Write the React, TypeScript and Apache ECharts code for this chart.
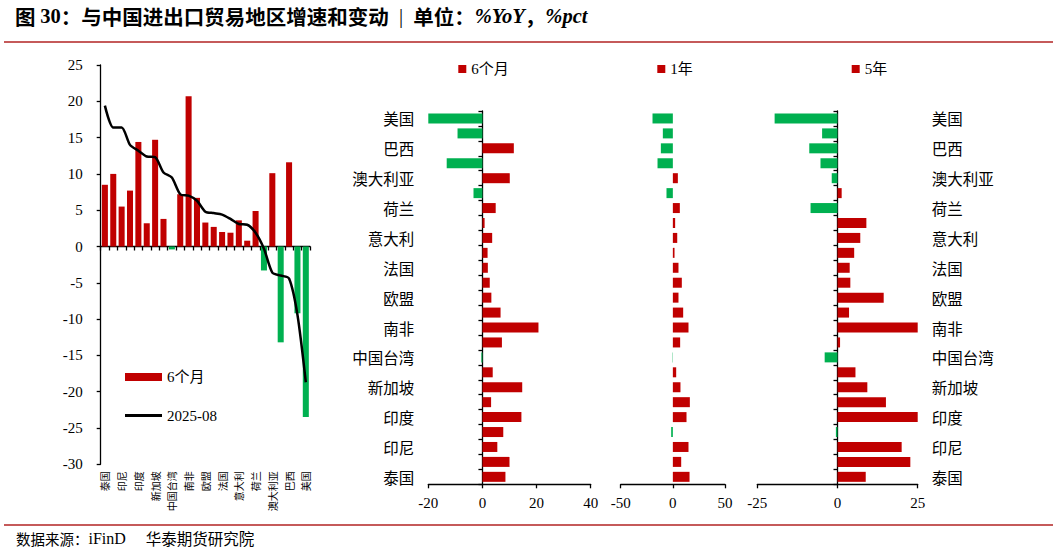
import React, { useEffect, useRef } from 'react';
import * as echarts from 'echarts';

// Categories (index 0 = bottom / left). Unlabelled in-between rows have blank names.
const categories = ['泰国', '', '印尼', '', '印度', '', '新加坡', '', '中国台湾', '', '南非', '', '欧盟', '', '法国', '', '意大利', '', '荷兰', '', '澳大利亚', '', '巴西', '', '美国'];

// 6-month change (bars, left chart and first right panel)
const sixMonth = [8.5, 10.0, 5.5, 7.7, 14.4, 3.2, 14.7, 3.8, -0.4, 7.2, 20.7, 6.7, 3.3, 2.7, 2.0, 1.9, 3.6, 0.8, 4.9, -3.3, 10.1, -13.2, 11.6, -9.2, -23.5];
// 2025-08 YoY (line, left chart)
const latest = [19.4, 16.4, 16.4, 14.0, 13.2, 12.4, 12.3, 10.2, 9.5, 7.2, 7.0, 6.3, 4.8, 4.6, 4.4, 3.8, 3.1, 3.0, 1.9, -0.3, -3.6, -4.0, -4.4, -9.4, -18.7];
// 1-year change
const oneYear = [16.0, 8.0, 15.0, -1.6, 13.1, 16.3, 7.3, 3.2, -0.3, 7.0, 15.0, 9.9, 5.4, 8.6, 5.4, 1.6, 4.2, 2.2, 6.7, -6.1, 4.8, -14.7, -11.5, -9.6, -19.5];
// 5-year change
const fiveYear = [8.8, 22.7, 20.0, -0.5, 26.0, 15.1, 9.3, 5.6, -4.0, 0.8, 26.5, 3.6, 14.4, 4.0, 3.8, 5.2, 7.1, 9.0, -8.4, 1.3, -1.8, -5.3, -8.8, -4.8, -19.6];

const RED = '#C00000';
const GREEN = '#00B050';
const SERIF = "'Liberation Serif', 'Noto Sans CJK SC'";
const CJK = "'Noto Sans CJK SC', 'Liberation Serif'";

const colored = (arr: number[]) =>
  arr.map((v) => ({ value: v, itemStyle: { color: v < 0 ? GREEN : RED } }));

export default function App() {
  const ref = useRef<HTMLDivElement>(null);

  useEffect(() => {
    if (!ref.current) return;
    const chart = echarts.init(ref.current, null, { renderer: 'svg' });

    const axisLineStyle = { color: '#000', width: 1.3 };
    const rightTop = 111;
    const rightH = 373.3;

    const valueLabel = { color: '#000', fontFamily: SERIF, fontSize: 15, margin: 11 };

    const option: any = {
      animation: false,
      backgroundColor: '#fff',
      grid: [
        { left: 100.7, top: 65, width: 209.3, height: 399.3, containLabel: false, outerBoundsMode: 'none' },
        { left: 428.3, top: rightTop, width: 162.4, height: rightH, containLabel: false, outerBoundsMode: 'none' },
        { left: 620.7, top: rightTop, width: 104.3, height: rightH, containLabel: false, outerBoundsMode: 'none' },
        { left: 757.3, top: rightTop, width: 160.4, height: rightH, containLabel: false, outerBoundsMode: 'none' },
      ],
      xAxis: [
        {
          gridIndex: 0, type: 'category', data: categories, position: 'top',
          axisLine: { show: true, onZero: true, lineStyle: axisLineStyle },
          axisTick: { show: true, inside: true, length: 4, interval: 0, lineStyle: axisLineStyle },
          axisLabel: { show: false },
          splitLine: { show: false },
        },
        {
          gridIndex: 0, type: 'category', data: categories, position: 'bottom',
          axisLine: { show: false, onZero: false },
          axisTick: { show: false },
          axisLabel: { show: true, interval: 0, rotate: 90, fontSize: 10, fontFamily: CJK, color: '#000', margin: 7 },
          splitLine: { show: false },
        },
        {
          gridIndex: 1, type: 'value', min: -20, max: 40, interval: 20, position: 'bottom',
          axisLine: { show: true, onZero: false, lineStyle: axisLineStyle },
          axisTick: { show: true, length: 4, lineStyle: axisLineStyle },
          axisLabel: valueLabel,
          splitLine: { show: false },
        },
        {
          gridIndex: 2, type: 'value', min: -50, max: 50, interval: 50, position: 'bottom',
          axisLine: { show: true, onZero: false, lineStyle: axisLineStyle },
          axisTick: { show: true, length: 4, lineStyle: axisLineStyle },
          axisLabel: valueLabel,
          splitLine: { show: false },
        },
        {
          gridIndex: 3, type: 'value', min: -25, max: 25, interval: 25, position: 'bottom',
          axisLine: { show: true, onZero: false, lineStyle: axisLineStyle },
          axisTick: { show: true, length: 4, lineStyle: axisLineStyle },
          axisLabel: valueLabel,
          splitLine: { show: false },
        },
      ],
      yAxis: [
        {
          gridIndex: 0, type: 'value', min: -30, max: 25, interval: 5, position: 'left',
          axisLine: { show: true, onZero: false, lineStyle: axisLineStyle },
          axisTick: { show: true, length: 4, lineStyle: axisLineStyle },
          axisLabel: { color: '#000', fontFamily: SERIF, fontSize: 15, margin: 18 },
          splitLine: { show: false },
        },
        {
          gridIndex: 1, type: 'category', data: categories, position: 'left',
          axisLine: { show: false, onZero: false },
          axisTick: { show: false },
          axisLabel: { show: true, interval: 0, fontSize: 15.5, fontFamily: CJK, color: '#000', margin: 14 },
          splitLine: { show: false },
        },
        {
          gridIndex: 1, type: 'category', data: categories, position: 'right',
          axisLine: { show: true, onZero: true, lineStyle: axisLineStyle },
          axisTick: { show: true, inside: true, length: 4, interval: 0, lineStyle: axisLineStyle },
          axisLabel: { show: false },
          splitLine: { show: false },
        },
        {
          gridIndex: 2, type: 'category', data: categories, show: false,
        },
        {
          gridIndex: 3, type: 'category', data: categories, position: 'right',
          axisLine: { show: false, onZero: false },
          axisTick: { show: false },
          axisLabel: { show: true, interval: 0, fontSize: 15.5, fontFamily: CJK, color: '#000', margin: 14 },
          splitLine: { show: false },
        },
        {
          gridIndex: 3, type: 'category', data: categories, position: 'left',
          axisLine: { show: true, onZero: true, lineStyle: axisLineStyle },
          axisTick: { show: true, length: 4, interval: 0, lineStyle: axisLineStyle },
          axisLabel: { show: false },
          splitLine: { show: false },
        },
      ],
      legend: [
        {
          data: [{ name: '6个月', icon: 'rect' }], left: 125, top: 369.5, padding: 0,
          itemWidth: 37, itemHeight: 8, selectedMode: false,
          textStyle: { color: '#000', fontFamily: SERIF, fontSize: 15 },
        },
        {
          data: [{ name: '2025-08', icon: 'rect', itemStyle: { color: '#000' } }], left: 125, top: 408, padding: 0,
          itemWidth: 37, itemHeight: 3, selectedMode: false,
          textStyle: { color: '#000', fontFamily: SERIF, fontSize: 15 },
        },
        {
          data: [{ name: '6个月', icon: 'rect' }], left: 458.3, top: 61.5, padding: 0,
          itemWidth: 8, itemHeight: 8, selectedMode: false,
          textStyle: { color: '#000', fontFamily: SERIF, fontSize: 15 },
        },
        {
          data: [{ name: '1年', icon: 'rect' }], left: 657.3, top: 61.5, padding: 0,
          itemWidth: 8, itemHeight: 8, selectedMode: false,
          textStyle: { color: '#000', fontFamily: SERIF, fontSize: 15 },
        },
        {
          data: [{ name: '5年', icon: 'rect' }], left: 851.7, top: 61.5, padding: 0,
          itemWidth: 8, itemHeight: 8, selectedMode: false,
          textStyle: { color: '#000', fontFamily: SERIF, fontSize: 15 },
        },
      ],
      series: [
        {
          name: '6个月', type: 'bar', xAxisIndex: 1, yAxisIndex: 0,
          data: colored(sixMonth), itemStyle: { color: RED }, barCategoryGap: '28%',
        },
        {
          name: '2025-08', type: 'line', xAxisIndex: 1, yAxisIndex: 0,
          data: latest, symbol: 'none', showSymbol: false, smooth: 0.25,
          itemStyle: { color: '#000' }, lineStyle: { color: '#000', width: 2.5 }, z: 5,
        },
        {
          name: '6个月', type: 'bar', xAxisIndex: 2, yAxisIndex: 2,
          data: colored(sixMonth), itemStyle: { color: RED }, barCategoryGap: '33%',
        },
        {
          name: '1年', type: 'bar', xAxisIndex: 3, yAxisIndex: 3,
          data: colored(oneYear), itemStyle: { color: RED }, barCategoryGap: '33%',
        },
        {
          name: '5年', type: 'bar', xAxisIndex: 4, yAxisIndex: 5,
          data: colored(fiveYear), itemStyle: { color: RED }, barCategoryGap: '33%',
        },
      ],
      graphic: [
        {
          type: 'text', x: 15, y: 16,
          style: {
            text: '{a|图 }{b|30}{a|：与中国进出口贸易地区增速和变动}{s|\u00a0\u00a0|\u00a0\u00a0}{a|单位：}{c|%YoY}{a|，}{c|%pct}',
            verticalAlign: 'middle',
            rich: {
              a: { fontFamily: CJK, fontWeight: 'bold', fontSize: 20.5, fill: '#000' },
              s: { fontFamily: SERIF, fontWeight: 'normal', fontSize: 20.5, fill: '#000' },
              b: { fontFamily: SERIF, fontWeight: 'bold', fontSize: 20.5, fill: '#000' },
              c: { fontFamily: SERIF, fontWeight: 'bold', fontStyle: 'italic', fontSize: 20.5, fill: '#000' },
            },
          },
        },
        {
          type: 'line', shape: { x1: 4, y1: 42, x2: 1053, y2: 42 },
          style: { stroke: '#C55A5A', lineWidth: 2 },
        },
        {
          type: 'line', shape: { x1: 4, y1: 525, x2: 1053, y2: 525 },
          style: { stroke: '#C55A5A', lineWidth: 2 },
        },
        {
          type: 'text', x: 16, y: 538,
          style: {
            text: '{a|数据来源：}{b|iFinD\u3000 }{c|华泰期货研究院}',
            verticalAlign: 'middle',
            rich: {
              a: { fontFamily: CJK, fontSize: 14.5, fill: '#000' },
              b: { fontFamily: SERIF, fontSize: 16, fill: '#000' },
              c: { fontFamily: CJK, fontSize: 15.5, fill: '#000' },
            },
          },
        },
      ],
    };

    chart.setOption(option);
    return () => chart.dispose();
  }, []);

  return (
    <div
      ref={ref}
      style={{ position: 'fixed', left: 0, top: 0, width: 1057, height: 550, background: '#fff' }}
    />
  );
}
